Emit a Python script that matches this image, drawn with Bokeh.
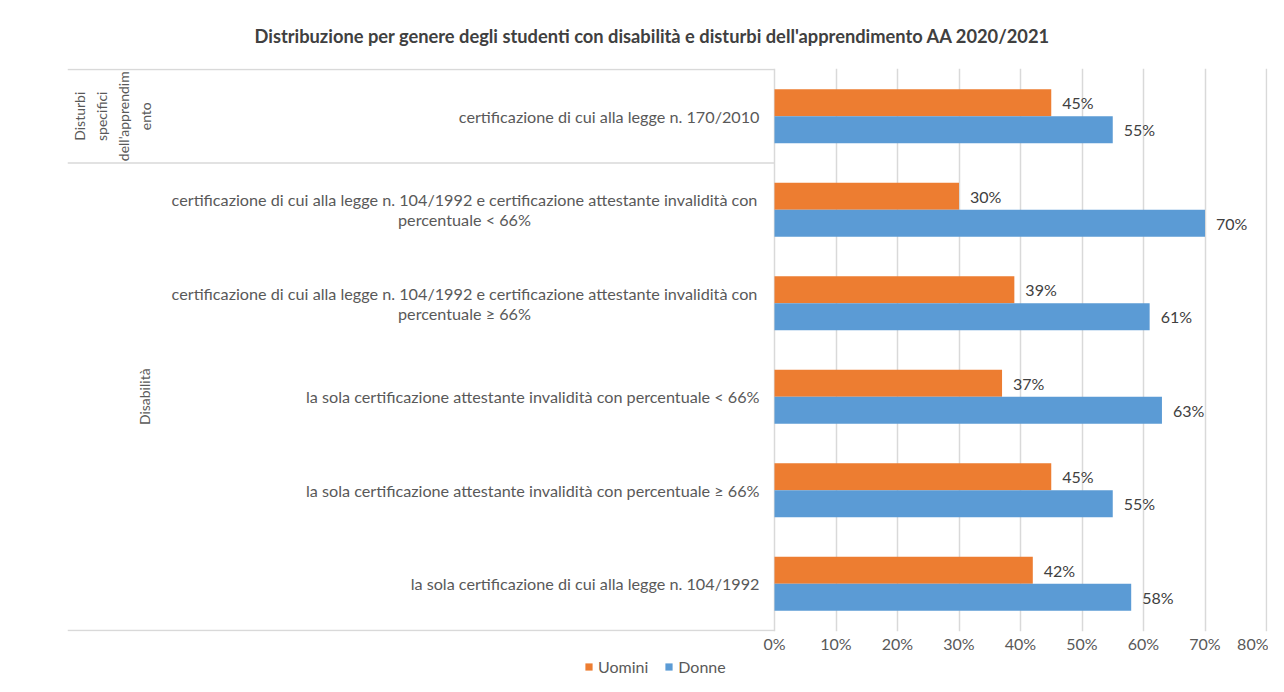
from bokeh.plotting import figure
from bokeh.layouts import column
from bokeh.models import Range1d, FixedTicker, PrintfTickFormatter, ColumnDataSource, Legend, LegendItem
from bokeh.core.properties import value
from bokeh.embed import file_html
from bokeh.resources import INLINE

# ---------------- data ----------------
categories = [
    "la sola certificazione di cui alla legge n. 104/1992",
    "la sola certificazione attestante invalidità con percentuale ≥ 66%",
    "la sola certificazione attestante invalidità con percentuale < 66%",
    "certificazione di cui alla legge n. 104/1992 e certificazione attestante invalidità con\npercentuale ≥ 66%",
    "certificazione di cui alla legge n. 104/1992 e certificazione attestante invalidità con\npercentuale < 66%",
    "certificazione di cui alla legge n. 170/2010",
]
uomini = [42, 45, 37, 39, 30, 45]
donne = [58, 55, 63, 61, 70, 55]
groups = ["Disabilità", "Disturbi\nspecifici\ndell'apprendim\nento"]
group_start = [0, 5]
group_end = [5, 6]
x_ticks = [0, 10, 20, 30, 40, 50, 60, 70, 80]
series_names = ["Uomini", "Donne"]
colors = ["#ED7D31", "#5B9BD5"]
title_text = "Distribuzione  per genere degli studenti con disabilità  e disturbi dell'apprendimento AA 2020/2021"

# ---------------- geometry (picture pixels) ----------------
W = 1268
H_MAIN, H_LEG = 658, 18
OFF_X, OFF_Y = 1, 2          # where the layout lands in the picture
FRAME_L, FRAME_R, FRAME_T, FRAME_B = 68, 1268, 69, 633
ZERO_PX = 775
PX_PER_PCT = 6.15
ROW_PX = (FRAME_B - FRAME_T - 2) / 6.0
eps = 1.0 / ROW_PX

def px_to_x(px):
    return (px - ZERO_PX) / PX_PER_PCT

x_min = px_to_x(FRAME_L)
x_max = px_to_x(FRAME_R)

FONT = "Lato"
GRAY_TXT = "#595959"
GRID = "#D9D9D9"

p = figure(width=W, height=H_MAIN, output_backend="svg", toolbar_location=None,
           x_range=Range1d(x_min, x_max), y_range=Range1d(-eps, 6 + eps),
           min_border_left=FRAME_L - OFF_X, min_border_right=OFF_X + W - FRAME_R,
           min_border_top=FRAME_T - OFF_Y, min_border_bottom=OFF_Y + H_MAIN - FRAME_B)
p.outline_line_color = None
p.background_fill_color = "white"
p.border_fill_color = "white"

# title
p.title.text = title_text
p.title.align = "left"
p.title.offset = 187
p.title.text_font = FONT
p.title.text_font_size = "18.3px"
p.title.text_font_style = "bold"
p.title.text_color = "#404040"
p.title.standoff = 44

# axes
p.yaxis.visible = False
p.ygrid.visible = False
p.xaxis.ticker = FixedTicker(ticks=x_ticks)
p.xaxis.formatter = PrintfTickFormatter(format="%d%%")
p.xaxis.axis_line_color = None
p.xaxis.major_tick_line_color = None
p.xaxis.minor_tick_line_color = None
p.xaxis.major_tick_out = 0
p.xaxis.major_label_standoff = 2
p.xaxis.major_label_text_font = FONT
p.xaxis.major_label_text_font_size = "16px"
p.xaxis.major_label_text_color = GRAY_TXT
p.xgrid.grid_line_color = GRID
p.xgrid.grid_line_width = 1.5

# bars
idx = list(range(len(categories)))
bar_h = 27.0 / ROW_PX
src = ColumnDataSource(dict(
    y_u=[i + 0.5 + bar_h / 2 for i in idx],
    y_d=[i + 0.5 - bar_h / 2 for i in idx],
    uomini=uomini, donne=donne,
    lab_u=[f"{v}%" for v in uomini], lab_d=[f"{v}%" for v in donne],
))
p.hbar(y="y_u", right="uomini", left=0, height=bar_h, source=src,
       fill_color=colors[0], line_color=None)
p.hbar(y="y_d", right="donne", left=0, height=bar_h, source=src,
       fill_color=colors[1], line_color=None)

# data labels
for xcol, ycol, lcol in (("uomini", "y_u", "lab_u"), ("donne", "y_d", "lab_d")):
    p.text(x=xcol, y=ycol, text=lcol, source=src, x_offset=11,
           text_align="left", text_baseline="middle",
           text_font=value(FONT), text_font_size="16px", text_color="#404040")

# category labels
single = [i for i, c in enumerate(categories) if "\n" not in c]
multi = [i for i, c in enumerate(categories) if "\n" in c]
p.text(x=[px_to_x(760)] * len(single), y=[i + 0.5 for i in single],
       text=[categories[i] for i in single], text_align="right", text_baseline="middle",
       text_font=value(FONT), text_font_size="16.2px", text_color=GRAY_TXT)
p.text(x=[px_to_x(465)] * len(multi), y=[i + 0.5 for i in multi],
       text=[categories[i] for i in multi], text_align="center", text_baseline="middle",
       text_line_height=1.05,
       text_font=value(FONT), text_font_size="16.2px", text_color=GRAY_TXT)

# group labels (rotated)
gx = [px_to_x(145), px_to_x(113)]
p.text(x=gx, y=[(s + e) / 2 for s, e in zip(group_start, group_end)], text=groups,
       angle=1.5707963, text_align="center", text_baseline="middle",
       text_line_height=1.3,
       text_font=value(FONT), text_font_size="14px", text_color=GRAY_TXT)

# category-axis separator lines
sep_y = sorted(set(group_start + group_end))
p.segment(x0=[x_min] * len(sep_y), x1=[0] * len(sep_y), y0=sep_y, y1=sep_y,
          line_color=GRID, line_width=1.5)

# ---------------- legend strip (frame is aligned with the main frame) ----------------
q = figure(width=W, height=H_LEG, output_backend="svg", toolbar_location=None,
           x_range=Range1d(0, 1), y_range=Range1d(0, 1),
           min_border_left=0, min_border_right=0, min_border_top=0, min_border_bottom=0)
q.axis.visible = False
q.grid.visible = False
q.outline_line_color = None
q.border_fill_color = "white"
# legend proxies: one off-screen item each, only so the legend can draw its swatch
leg_r = [q.hbar(y=[-5], right=[0.5], left=0, height=0.5, fill_color=c, line_color=None)
         for c in colors]
legend = Legend(items=[LegendItem(label=n, renderers=[r]) for n, r in zip(series_names, leg_r)],
                orientation="horizontal", location=(585 - FRAME_L, 0),
                padding=0, margin=0, spacing=16, label_standoff=5,
                glyph_width=9, glyph_height=9, label_height=14,
                label_text_font=FONT, label_text_font_size="16px", label_text_color=GRAY_TXT,
                border_line_color=None, background_fill_alpha=0)
q.add_layout(legend, "center")

layout = column(p, q, spacing=0)
open("out.html", "w").write(file_html(layout, INLINE))
